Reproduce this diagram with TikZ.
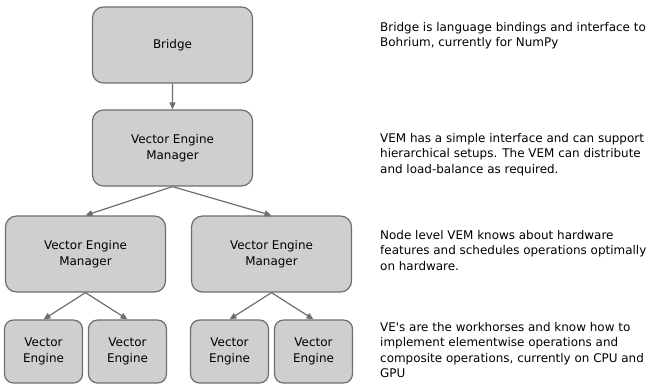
\documentclass[tikz,border=0pt]{standalone}
\usepackage{fontspec}
\setmainfont{DejaVu Sans}
\usepackage{xcolor}
\usetikzlibrary{trees,arrows.meta}
\definecolor{boxfill}{HTML}{CFCFCF}
\definecolor{boxline}{HTML}{6E6E6E}

\begin{document}
\begin{tikzpicture}[x=1bp,y=1bp,
    font=\fontsize{12}{15.3}\selectfont,
    bigbox/.style={rectangle, rounded corners=11bp, draw=boxline, fill=boxfill,
      line width=1.2bp, minimum width=160bp, minimum height=76bp, align=center,
      font=\fontsize{12}{16.5}\selectfont},
    smallbox/.style={rectangle, rounded corners=9bp, draw=boxline, fill=boxfill,
      line width=1.2bp, minimum width=78bp, minimum height=63bp, align=center,
      font=\fontsize{12}{16.5}\selectfont},
    note/.style={anchor=north west, inner sep=0pt, align=left},
    level 1/.style={level distance=103bp},
    level 2/.style={level distance=106bp, sibling distance=186bp,
      every node/.append style={xshift=6bp}},
    level 3/.style={level distance=97.5bp, sibling distance=84bp,
      every node/.style={}},
    edge from parent/.style={draw=boxline, line width=1.2bp,
      -{Triangle[length=7bp,width=6bp]}},
    parent anchor=south, child anchor=north]
    \useasboundingbox (0,0) rectangle (663,-385);
    \node [bigbox] (bridge) at (172.5,-45) {Bridge}
      child {node [bigbox] (vem) {Vector Engine\\Manager}
          child {node [bigbox] (vemleft) {Vector Engine\\Manager}
            child {node [smallbox] (veone) {Vector\\Engine}}
            child {node [smallbox] (vetwo) {Vector\\Engine}}
          }
          child {node [bigbox] (vemright) {Vector Engine\\Manager}
            child {node [smallbox] (vethree) {Vector\\Engine}}
            child {node [smallbox] (vefour) {Vector\\Engine}}
          }
      };
    % descriptions on the right
    \node [note] (notebridge) at (380,-22.3) {Bridge is language bindings and interface to\\Bohrium, currently for NumPy};
    \node [note] (notevem) at (380,-133.3) {VEM has a simple interface and can support\\hierarchical setups. The VEM can distribute\\and load-balance as required.};
    \node [note] (notenode) at (380,-230.3) {Node level VEM knows about hardware\\features and schedules operations optimally\\on hardware.};
    \node [note] (noteve) at (380,-322.3) {VE\textquotesingle s are the workhorses and know how to\\implement elementwise operations and\\composite operations, currently on CPU and\\GPU};
\end{tikzpicture}
\end{document}
